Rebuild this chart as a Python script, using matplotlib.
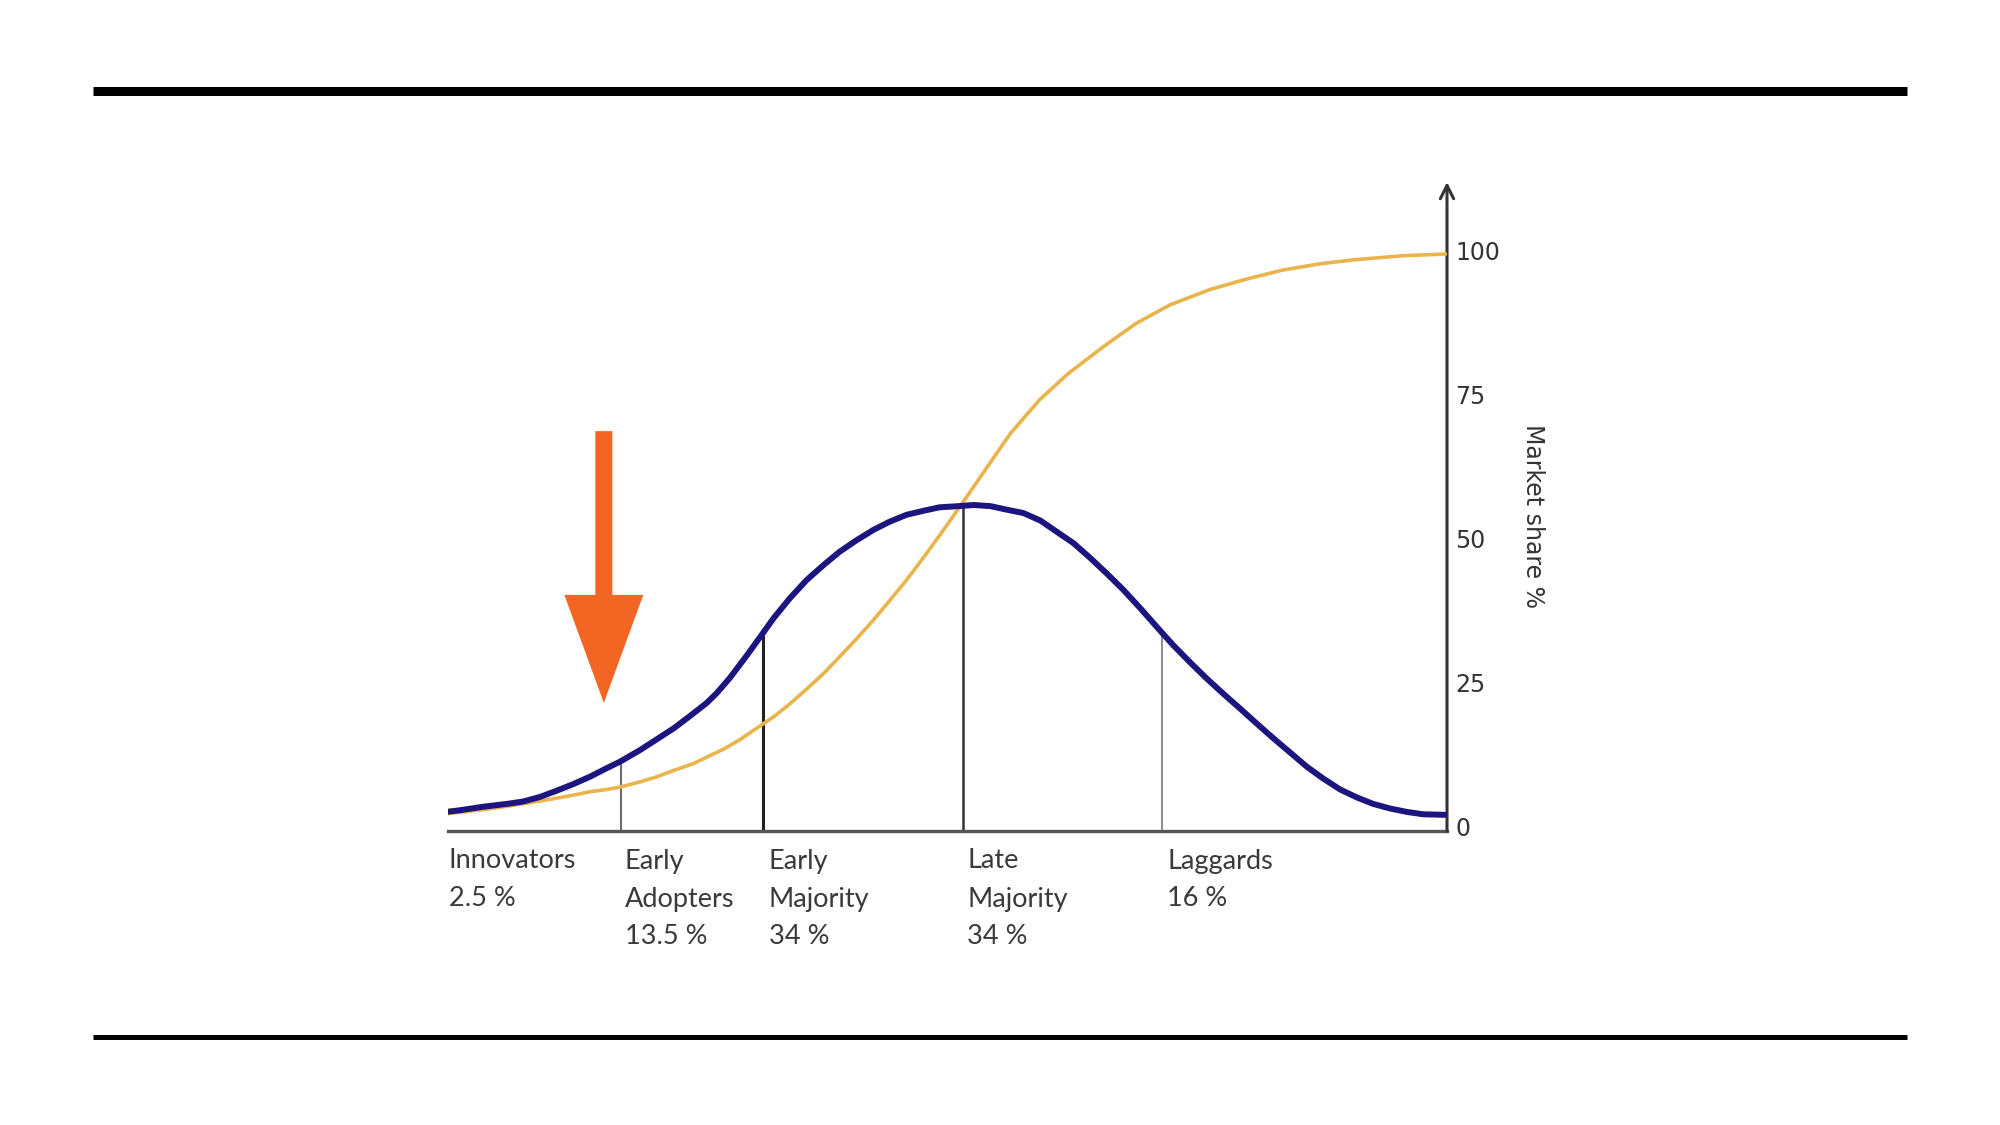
import matplotlib
matplotlib.use("Agg")
import matplotlib.pyplot as plt
from matplotlib.patches import FancyArrow
from matplotlib.lines import Line2D
from matplotlib.transforms import ScaledTranslation

# ---- data ----
# x: 0..100 along the time axis; y: market share %
adoption_x = [0.0, 1.2, 3.5, 5.9, 7.5, 9.2, 10.9, 12.5, 14.2, 15.9, 17.2, 19.2, 20.9,
              22.6, 24.2, 25.9, 26.9, 28.2, 29.9, 31.4, 32.6, 34.2, 35.9, 37.6, 39.2,
              40.9, 42.6, 44.2, 45.9, 47.6, 49.2, 51.1, 52.6, 54.3, 55.9, 57.6, 59.3,
              60.9, 62.6, 64.3, 65.9, 67.6, 69.3, 71.4, 72.6, 74.3, 75.9, 77.6, 79.3,
              80.9, 82.6, 84.3, 86.0, 87.6, 89.3, 91.0, 92.6, 94.3, 96.0, 97.6, 99.8]
adoption_y = [3.35, 3.6, 4.2, 4.7, 5.1, 5.9, 7.0, 8.1, 9.4, 10.9, 12.0, 14.0, 15.9,
              17.8, 19.9, 22.2, 23.9, 26.5, 30.4, 34.0, 36.9, 40.3, 43.5, 46.1, 48.4,
              50.4, 52.2, 53.6, 54.8, 55.5, 56.1, 56.3, 56.5, 56.3, 55.7, 55.1, 53.8,
              51.9, 49.9, 47.3, 44.7, 41.8, 38.6, 34.5, 32.2, 29.2, 26.5, 23.8, 21.2,
              18.7, 16.1, 13.6, 11.1, 9.1, 7.2, 5.8, 4.7, 3.9, 3.3, 2.9, 2.8]

share_x = [0.0, 3.5, 6.0, 8.9, 10.9, 12.5, 14.2, 15.9, 17.2, 19.2, 20.9, 22.6, 24.6,
           25.9, 27.6, 29.2, 31.4, 32.6, 34.2, 35.9, 37.6, 39.2, 40.9, 42.6, 44.2,
           45.9, 47.6, 49.2, 51.4, 53.9, 56.3, 59.2, 62.1, 65.5, 68.9, 72.3, 76.2,
           79.6, 83.5, 87.3, 90.7, 95.6, 99.9]
share_y = [3.0, 3.7, 4.3, 5.1, 5.7, 6.2, 6.8, 7.2, 7.6, 8.5, 9.4, 10.5, 11.7,
           12.8, 14.2, 15.8, 18.4, 19.8, 22.0, 24.6, 27.3, 30.2, 33.3, 36.6, 39.9,
           43.5, 47.4, 51.2, 56.6, 62.9, 68.9, 74.7, 79.3, 83.8, 88.0, 91.2, 93.8,
           95.5, 97.2, 98.3, 99.0, 99.7, 100.0]

divider_x = [17.3, 31.5, 51.6, 71.5]
divider_top = [12.0, 34.2, 56.3, 34.5]

segment_labels = [["Innovators", "2.5 %"],
                  ["Early", "Adopters", "13.5 %"],
                  ["Early", "Majority", "34 %"],
                  ["Late", "Majority", "34 %"],
                  ["Laggards", "16 %"]]
segment_label_x = [0.1, 17.7, 32.1, 52.0, 72.0]

y_ticks = [0, 25, 50, 75, 100]
y_label = "Market share %"

# ---- figure ----
W, H = 2000, 1125
fig = plt.figure(figsize=(20, 11.25), dpi=100)
fig.patch.set_facecolor("white")

# horizontal rules
fig.add_artist(Line2D([93 / W, 1907 / W], [1 - 90.5 / H, 1 - 90.5 / H],
                      color="black", lw=9 * 0.72, solid_capstyle="butt"))
fig.add_artist(Line2D([93 / W, 1907 / W], [1 - 1036.5 / H, 1 - 1036.5 / H],
                      color="black", lw=5 * 0.72, solid_capstyle="butt"))

x0, x1 = 448, 1447
ybase, ytop = 831, 182
ppu = (831 - 254) / 100.0
ymax = (ybase - ytop) / ppu
ax = fig.add_axes([x0 / W, 1 - ybase / H, (x1 - x0) / W, (ybase - ytop) / H])
ax.set_xlim(0, 100)
ax.set_ylim(0, ymax)
ax.patch.set_alpha(0)

for s in ["top", "left", "right"]:
    ax.spines[s].set_visible(False)
ax.spines["bottom"].set_color("#555555")
ax.spines["bottom"].set_linewidth(2.4)
ax.set_xticks([])

ax.yaxis.tick_right()
ax.set_yticks(y_ticks)
ax.set_yticklabels([str(t) for t in y_ticks])
ax.tick_params(axis="y", length=0, pad=6, labelsize=17, labelcolor="#333333")
shift = ScaledTranslation(0, 4 / 100, fig.dpi_scale_trans)
for lbl in ax.get_yticklabels():
    lbl.set_transform(lbl.get_transform() + shift)

# vertical axis with arrow
ax.annotate("", xy=(100, ymax), xytext=(100, 0), xycoords="data",
            arrowprops=dict(arrowstyle="->", lw=2.2, color="#333333",
                            mutation_scale=24, shrinkA=0, shrinkB=0),
            annotation_clip=False)

# divider lines
div_styles = [("#6a6a6a", 1.5), ("#222222", 2.2), ("#333333", 1.8), ("#7a7a7a", 1.2)]
for xv, top, (c, lw) in zip(divider_x, divider_top, div_styles):
    ax.plot([xv, xv], [0, top], color=c, lw=lw, zorder=2)

# curves
ax.plot(share_x, share_y, color="#E9B44C", lw=2.6, zorder=3,
        solid_capstyle="round", solid_joinstyle="round")
ax.plot(adoption_x, adoption_y, color="#1C1580", lw=4.3, zorder=4,
        solid_capstyle="round", solid_joinstyle="round")

# orange pointer arrow
arrow_x, arrow_top, arrow_tip = 15.6, 69.3, 22.2
ax.add_patch(FancyArrow(arrow_x, arrow_top, 0, arrow_tip - arrow_top,
                        width=1.7, head_width=7.9, head_length=(703 - 595) / ppu,
                        length_includes_head=True, color="#F26522", lw=0, zorder=5))

# segment labels
line_y_px = [861, 899, 937]
for lines, lx in zip(segment_labels, segment_label_x):
    for i, t in enumerate(lines):
        ax.text(lx, (ybase - line_y_px[i]) / ppu, t, ha="left", va="center",
                fontsize=19.5, family="Lato", color="#3a3a3a", clip_on=False)

fig.text(1533 / W, 1 - 516 / H, y_label, rotation=270, ha="center", va="center",
         fontsize=17, color="#333333")

fig.savefig("out.png", dpi=100, facecolor="white")
